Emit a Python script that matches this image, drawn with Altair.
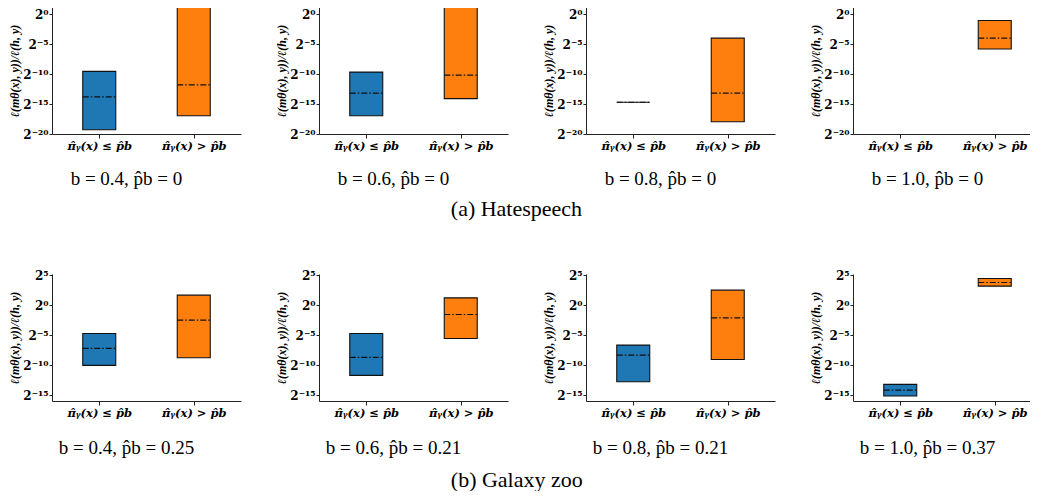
import altair as alt
import pandas as pd

# ---------------- data (log2 of the loss ratio) ----------------
categories = ["π̂ᵧ(x) ≤ p̂b", "π̂ᵧ(x) > p̂b"]
box_colors = ["#1f77b4", "#ff7f0e"]
b_values = ["0.4", "0.6", "0.8", "1.0"]
hs_pb = ["0", "0", "0", "0"]
gz_pb = ["0.25", "0.21", "0.21", "0.37"]

# Hatespeech, group pi <= p_b (None: no samples)
hs_low_lo = [-19.3, -16.95, -14.7, None]
hs_low_med = [-13.8, -13.17, -14.7, None]
hs_low_hi = [-9.55, -9.67, -14.7, None]
# Hatespeech, group pi > p_b (upper ends of first two run off the top)
hs_high_lo = [-16.95, -14.1, -17.95, -5.8]
hs_high_med = [-11.8, -10.17, -13.17, -4.0]
hs_high_hi = [3.0, 3.0, -4.0, -1.05]

# Galaxy zoo
gz_low_lo = [-10.05, -11.72, -12.78, -15.17]
gz_low_med = [-7.22, -8.72, -8.33, -14.17]
gz_low_hi = [-4.72, -4.72, -6.67, -13.22]
gz_high_lo = [-8.78, -5.56, -9.06, 3.17]
gz_high_med = [-2.5, -1.56, -2.11, 3.78]
gz_high_hi = [1.67, 1.22, 2.5, 4.44]

hs_ticks = [0, -5, -10, -15, -20]
gz_ticks = [5, 0, -5, -10, -15]
tick_labels = {5: "2⁵", 0: "2⁰", -5: "2⁻⁵", -10: "2⁻¹⁰", -15: "2⁻¹⁵", -20: "2⁻²⁰"}

y_title = "ℓ(mθ(x), y))/ℓ(h, y)"
SERIF = "Liberation Serif"
MATH = "DejaVu Serif"


def label_expr(ticks):
    expr = "''"
    for t in reversed(ticks):
        expr = f"datum.value == {t} ? '{tick_labels[t]}' : ({expr})"
    return expr


def panel(i, lo_l, med_l, hi_l, lo_h, med_h, hi_h, pb, domain, ticks, height, sub_offset):
    rows = []
    for g, lo, med, hi in [(categories[0], lo_l[i], med_l[i], hi_l[i]),
                           (categories[1], lo_h[i], med_h[i], hi_h[i])]:
        if lo is not None:
            rows.append({"group": g, "lo": lo, "med": med, "hi": hi})
    df = pd.DataFrame(rows, columns=["group", "lo", "med", "hi"])

    xenc = alt.X(
        "group:N",
        scale=alt.Scale(type="point", domain=categories, padding=0.5),
        axis=alt.Axis(title=None, labelAngle=0, labelFont=MATH, labelFontSize=11.5,
                      labelFontWeight="bold", labelFontStyle="italic", labelColor="black",
                      tickSize=4, tickColor="#222", domainColor="#222", labelPadding=2),
    )
    yscale = alt.Scale(domain=domain, nice=False, zero=False)
    yaxis = alt.Axis(values=ticks, labelExpr=label_expr(ticks), title=y_title,
                     labelOverlap=False, labelFlush=False,
                     titleFont=SERIF, titleFontSize=12, titleFontWeight="bold",
                     titleFontStyle="italic", titleColor="black", titlePadding=1,
                     labelFont=MATH, labelFontSize=12, labelFontWeight="bold",
                     labelColor="black", tickSize=3, tickColor="#222",
                     domainColor="#222", grid=False, labelPadding=1)
    base = alt.Chart(df)
    boxes = base.mark_bar(size=33, stroke="#111", strokeWidth=1.1, clip=True).encode(
        x=xenc,
        y=alt.Y("lo:Q", scale=yscale, axis=yaxis),
        y2="hi:Q",
        color=alt.Color("group:N", scale=alt.Scale(domain=categories, range=box_colors), legend=None),
    )
    med = base.mark_rule(color="#111", strokeWidth=1.2, strokeDash=[6, 2, 1.5, 2],
                         xOffset=-16.5, x2Offset=16.5, clip=True).encode(
        x=xenc, x2="group:N", y=alt.Y("med:Q", scale=yscale, axis=yaxis)
    )
    return alt.layer(boxes, med).properties(
        width=189, height=height,
        title=alt.TitleParams(f"b = {b_values[i]}, p̂b = {pb[i]}", orient="bottom",
                              font=SERIF, fontSize=19, fontWeight="normal", color="black",
                              offset=sub_offset, dx=-20),
    )


row_a = alt.hconcat(
    *[panel(i, hs_low_lo, hs_low_med, hs_low_hi, hs_high_lo, hs_high_med, hs_high_hi,
            hs_pb, [-20, 1.2], hs_ticks, 127, 18) for i in range(4)],
    spacing=78, bounds="flush",
    title=alt.TitleParams("(a) Hatespeech", orient="bottom", anchor="start", font=SERIF,
                          fontSize=22, fontWeight="normal", color="black", dx=442, offset=10),
)
row_b = alt.hconcat(
    *[panel(i, gz_low_lo, gz_low_med, gz_low_hi, gz_high_lo, gz_high_med, gz_high_hi,
            gz_pb, [-16, 5.2], gz_ticks, 127, 20) for i in range(4)],
    spacing=78, bounds="flush",
    title=alt.TitleParams("(b) Galaxy zoo", orient="bottom", anchor="start", font=SERIF,
                          fontSize=22, fontWeight="normal", color="black", dx=442, offset=12),
)

chart = alt.vconcat(row_a, row_b, spacing=49).properties(
    padding={"top": -1, "left": 0, "right": -12, "bottom": 0}
).configure_view(stroke=None).configure_axis(grid=False)

chart.save("out.html", embed_options={"renderer": "svg", "actions": False})
